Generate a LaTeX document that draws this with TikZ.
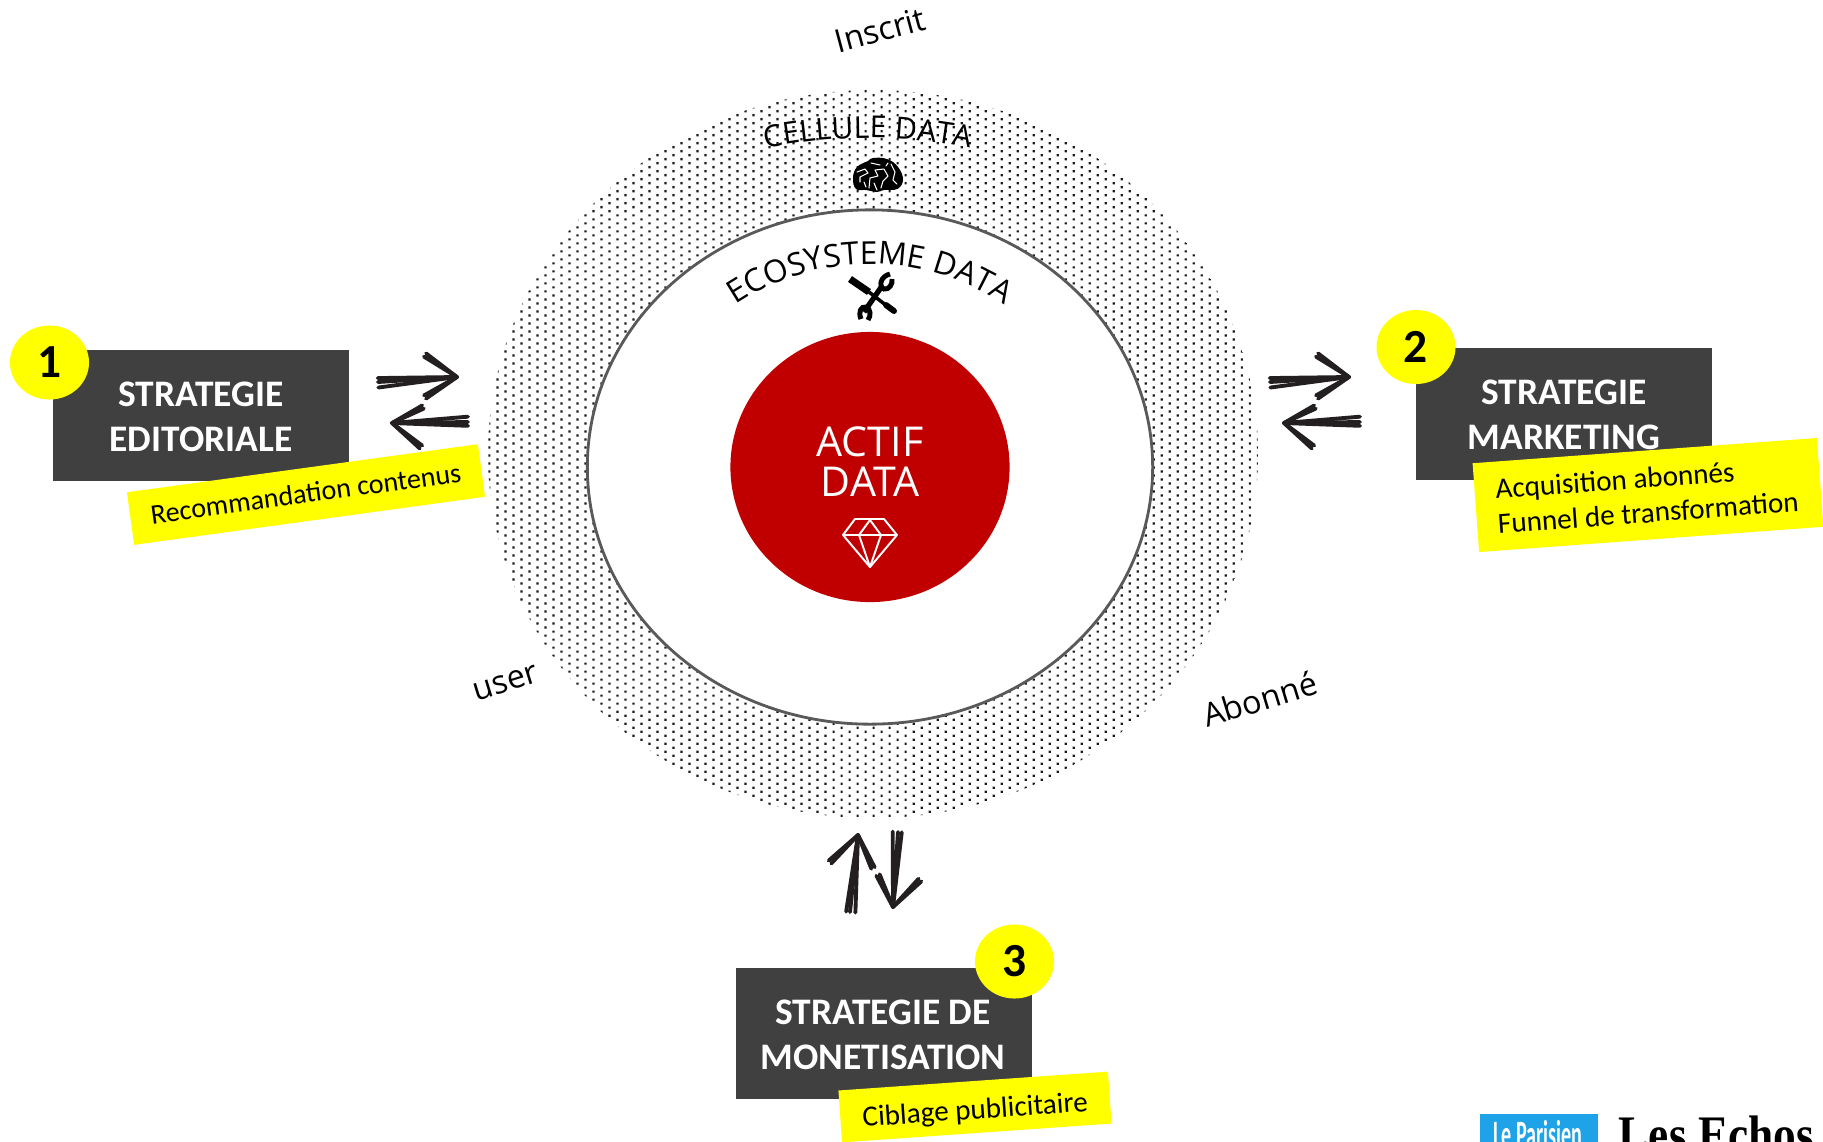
\documentclass[tikz,border=0pt]{standalone}
\usepackage{fontspec}
\setmainfont{Carlito}
\newfontfamily\labelfont{Open Sans}
\newfontfamily\logoserif{Liberation Serif}
\usepackage[HTML]{xcolor}
\usetikzlibrary{positioning, arrows, arrows.meta, calc, decorations.text, patterns, shapes.geometric}

\definecolor{boxgrey}{HTML}{404040}
\definecolor{markyellow}{HTML}{FFFF00}
\definecolor{coralred}{HTML}{C00000}
\definecolor{sketchink}{HTML}{231F20}
\definecolor{parisienblue}{HTML}{1FA3E8}

\pgfdeclarepatternformonly{dotscreen}{\pgfqpoint{-0.01cm}{-0.01cm}}{\pgfqpoint{0.15cm}{0.07cm}}{\pgfqpoint{0.16cm}{0.08cm}}{
\pgfpathrectangle{\pgfpointorigin}{\pgfqpoint{0.022cm}{0.022cm}}
\pgfpathrectangle{\pgfqpoint{0.08cm}{0.04cm}}{\pgfqpoint{0.022cm}{0.022cm}}
\pgfusepath{fill}
}

\tikzset{
  strategybox/.style={fill=boxgrey, minimum width=2.96cm, minimum height=1.31cm, inner sep=0pt},
  strategytext/.style={text=white, font=\fontsize{10.65}{12.8}\selectfont\bfseries, align=center, inner sep=0pt},
  numberdisc/.style={ellipse, fill=markyellow, minimum width=0.79cm, minimum height=0.74cm, inner sep=0pt, font=\fontsize{13.5}{14}\selectfont\bfseries},
  marklabel/.style={fill=markyellow, inner sep=0pt, font=\fontsize{8.3}{9.9}\selectfont, align=left},
  tierlabel/.style={font=\labelfont\fontsize{9.2}{11}\selectfont, inner sep=0pt},
  sketchline/.style={draw=sketchink, line width=1.1pt, line cap=round},
}

% one rough arrow: tail, tip, two barb ends
\newcommand{\sketcharrow}[4]{
\foreach \off in {-0.07,0,0.05}{
\draw[sketchline] ($(#1)!\off!90:(#2)$)--(#2);
}
\foreach \off in {-0.05,0.05}{
\draw[sketchline] ($(#3)!\off!90:(#2)$)--(#2);
\draw[sketchline] ($(#4)!\off!90:(#2)$)--(#2);
}
}

\begin{document}
\begin{tikzpicture}[x=0.01cm, y=-0.01cm]
\clip (0,0) rectangle (1823,1141);
\fill[white] (0,0) rectangle (1823,1141);

% Rings
\fill[pattern=dotscreen, pattern color=black!90] (873,454) ellipse [x radius=385, y radius=364];
\node[ellipse, draw=black!65, line width=0.8pt, fill=white, minimum width=5.65cm, minimum height=5.14cm, inner sep=0pt] (ecosystem) at (870,467) {};
\node[ellipse, fill=coralred, minimum width=2.79cm, minimum height=2.70cm, inner sep=0pt] (actif) at (870,467) {};

% Core label and gem
\node[text=white, font=\labelfont\fontsize{11.7}{11.1}\selectfont, align=center, inner sep=0pt, anchor=base] (actiftext) at (870,496) {ACTIF\\DATA};
\draw[white, line width=0.55pt, line join=round] (855,519)--(884,519)--(897,535)--(870,567)--(843,535)--cycle;
\draw[white, line width=0.55pt, line join=round] (843,535)--(897,535) (859,535)--(870,520)--(881,535)--(870,567)--(859,535);

% Curved titles
\path[decorate, decoration={text along path, text align=center, text={|\labelfont\fontsize{8.6}{10}\selectfont|CELLULE DATA}}] (868,663)+(259:525) arc [start angle=259, end angle=281, radius=525];
\path[decorate, decoration={text along path, text align=center, text={|\labelfont\fontsize{9.0}{10}\selectfont|ECOSYSTEME DATA}}] (870,505)+(210:241) arc [start angle=210, end angle=330, radius=241];

% Brain
\fill[black] plot[smooth cycle, tension=0.7] coordinates {(853,178) (857,167) (868,161) (873,158) (887,159) (898,167) (903,180) (897,189) (884,190) (877,192) (866,190) (856,189)};
\draw[white, line width=0.3pt, line cap=round, line join=round] (857,172)--(865,169)--(868,173)--(860,177)--(860,182) (871,163)--(880,165) (869,188)--(870,178)--(878,176)--(875,170)--(884,169)--(888,176)--(883,181)--(881,188) (891,164)--(895,172)--(893,180)--(897,184) (888,163)--(886,166) (864,182)--(866,187) (874,183)--(877,190);

% Tools
\draw[black, line width=2pt] (850,279)--(869,292);
\draw[black, line width=1pt] (869,292)--(887,306);
\draw[black, line width=1.7pt, line cap=round] (886,305)--(894,311);
\draw[black, line width=1.5pt] (864,312)--(882,286);
\draw[black, line width=1.4pt] (890,274) .. controls (881,276) and (878,286) .. (884,289) .. controls (889,290) and (893,284) .. (892,279);
\draw[black, line width=1.4pt] (861,319) .. controls (858,312) and (861,306) .. (866,307) .. controls (871,309) and (871,316) .. (868,320);

% Tier labels
\node[tierlabel, rotate=15] (inscrit) at (880,30) {Inscrit};
\node[tierlabel, rotate=17] (user) at (506,683) {user};
\node[tierlabel, rotate=17] (abonne) at (1260,699) {Abonné};

% Strategy boxes
\node[strategybox] (editoriale) at (201,415.5) {};
\node[strategybox] (marketing) at (1564,414) {};
\node[strategybox] (monetisation) at (884,1033.5) {};
\node[strategytext, anchor=base] (editext) at (201,451) {STRATEGIE\\EDITORIALE};
\node[strategytext, anchor=base] (mkttext) at (1564,449) {STRATEGIE\\MARKETING};
\node[strategytext, anchor=base] (montext) at (883,1069) {STRATEGIE DE\\MONETISATION};

% Number discs
\node[numberdisc] (one) at (49.5,362.5) {1};
\node[numberdisc] (two) at (1416,347) {2};
\node[numberdisc] (three) at (1014.5,961.5) {3};

% Yellow tags
\node[marklabel, rotate=7.8, minimum width=3.54cm, minimum height=0.53cm, align=center, font=\fontsize{8.0}{10}\selectfont] (tagone) at (306,494.5) {\raisebox{-0.085cm}[0pt][0pt]{Recommandation contenus}};
\node[marklabel, rotate=4.2, minimum width=3.45cm, minimum height=0.89cm] (tagtwo) at (1648,495) {\hspace{-0.02cm}Acquisition abonnés\\\hspace{-0.02cm}Funnel de transformation};
\node[marklabel, rotate=4, minimum width=2.70cm, minimum height=0.52cm, align=center] (tagthree) at (975,1107) {\raisebox{-0.12cm}[0pt][0pt]{Ciblage publicitaire}};

% Arrow end points
\coordinate (edA) at (378,382);
\coordinate (edB) at (457,377);
\coordinate (edC) at (425,355);
\coordinate (edD) at (425,397);
\coordinate (edE) at (468,422);
\coordinate (edF) at (392,423);
\coordinate (edG) at (423,407);
\coordinate (edH) at (421,447);
\coordinate (mkA) at (1270,382);
\coordinate (mkB) at (1349,377);
\coordinate (mkC) at (1317,355);
\coordinate (mkD) at (1317,397);
\coordinate (mkE) at (1360,422);
\coordinate (mkF) at (1284,423);
\coordinate (mkG) at (1315,407);
\coordinate (mkH) at (1313,447);
\coordinate (moA) at (850,912);
\coordinate (moB) at (858,835);
\coordinate (moC) at (830,862);
\coordinate (moD) at (873,868);
\coordinate (moE) at (898,832);
\coordinate (moF) at (893,907);
\coordinate (moG) at (878,875);
\coordinate (moH) at (920,880);
\sketcharrow{edA}{edB}{edC}{edD}
\sketcharrow{edE}{edF}{edG}{edH}
\sketcharrow{mkA}{mkB}{mkC}{mkD}
\sketcharrow{mkE}{mkF}{mkG}{mkH}
\sketcharrow{moA}{moB}{moC}{moD}
\sketcharrow{moE}{moF}{moG}{moH}

% Logos
\node[fill=parisienblue, minimum width=1.18cm, minimum height=0.40cm, inner sep=0pt, anchor=north west] (parisien) at (1479,1113) {};
\node[text=white, font=\fontsize{11}{12}\selectfont\bfseries, inner sep=0pt, anchor=base] (parisientext) at (1538,1147) {\scalebox{0.52}[1]{Le Parisien}};
\node[font=\logoserif\fontsize{15}{15}\selectfont\bfseries, inner sep=0pt, anchor=base west] (echos) at (1618,1152) {\scalebox{0.86}[1]{Les Echos}};
\end{tikzpicture}
\end{document}
